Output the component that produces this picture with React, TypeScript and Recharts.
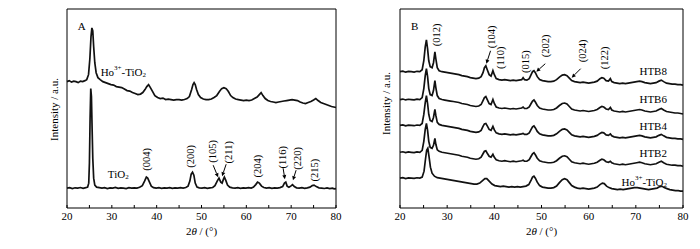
import { LineChart, Line, XAxis, YAxis, ReferenceArea, ReferenceDot, ReferenceLine } from "recharts";

const FONT = "'Liberation Serif', 'Times New Roman', serif";

// 2θ tick marks (labels on every 10°)
const xTicks = [20, 25, 30, 35, 40, 45, 50, 55, 60, 65, 70, 75, 80];
const rightTicksA = [0, 20, 40, 60, 80, 100, 120, 140, 160, 180, 200];

// panel A: [2θ, intensity (offset, a.u.)]
const hoTiO2A: number[][] = [
  [20, 127], [20.5, 128], [21, 126.5], [21.5, 127.5], [22, 127], [22.5, 126], [23, 127.5], [23.5, 127], [24, 128], [24.4, 129],
  [24.8, 134], [25.1, 150], [25.35, 172], [25.55, 181], [25.75, 178], [25.95, 162], [26.2, 146], [26.5, 136], [26.9, 131], [27.4, 129],
  [28, 127], [28.6, 126], [29.2, 125], [29.8, 124], [30.4, 123.5], [31, 122], [31.6, 121.5], [32.2, 121], [32.8, 119.5], [33.4, 118],
  [34, 117.5], [34.6, 116], [35.2, 115], [35.8, 114], [36.4, 114.5], [36.9, 116], [37.4, 119], [37.8, 122], [38.2, 124], [38.6, 121],
  [39.1, 117], [39.6, 113], [40.2, 111], [40.8, 110], [41.4, 110.5], [42, 109], [42.6, 109.5], [43.2, 109], [43.8, 108.5], [44.4, 109],
  [45, 109], [45.6, 108.5], [46.2, 109], [46.8, 110], [47.3, 112], [47.8, 119], [48.1, 124], [48.35, 126], [48.6, 124], [48.9, 119],
  [49.3, 114], [49.8, 111], [50.4, 109.5], [51, 109], [51.6, 109], [52.2, 109.5], [52.8, 111], [53.4, 113], [54, 117], [54.5, 120],
  [55, 121], [55.5, 120], [56, 117], [56.5, 113], [57, 111], [57.6, 109.5], [58.2, 109], [58.8, 108.5], [59.4, 108], [60, 108.5],
  [60.6, 108], [61.2, 108.5], [61.8, 110], [62.4, 111.5], [62.9, 114], [63.3, 116], [63.7, 113], [64.2, 110], [64.8, 108], [65.4, 107],
  [66, 106.5], [66.6, 106], [67.2, 106.5], [67.8, 107], [68.4, 107.5], [69, 108], [69.6, 108.5], [70.2, 109], [70.8, 108.5], [71.4, 108],
  [72, 106.5], [72.6, 105.5], [73.2, 105], [73.8, 106], [74.4, 107], [75, 108.5], [75.5, 110], [76, 108], [76.6, 106], [77.2, 105],
  [77.8, 104], [78.4, 103], [79, 102], [79.5, 101.5], [80, 101],
];

const tiO2A: number[][] = [
  [20, 20], [20.6, 20.5], [21.2, 19.5], [21.8, 20.3], [22.4, 20], [23, 20.6], [23.6, 19.8], [24.2, 20.4], [24.6, 21], [24.85, 25],
  [25.0, 45], [25.15, 90], [25.3, 120], [25.45, 112], [25.6, 80], [25.75, 50], [25.95, 30], [26.2, 23], [26.6, 21], [27.2, 20.5],
  [27.8, 20], [28.4, 20.4], [29, 19.6], [29.6, 20.2], [30.2, 20], [30.8, 20.6], [31.4, 19.7], [32, 20.3], [32.6, 20], [33.2, 19.5],
  [33.8, 20.4], [34.4, 20], [35, 20.3], [35.6, 20], [36.2, 20.8], [36.8, 22.5], [37.3, 27], [37.7, 31], [38.0, 30], [38.4, 26],
  [38.8, 22], [39.3, 20.5], [39.9, 20], [40.5, 20.4], [41.1, 19.8], [41.7, 20.3], [42.3, 20], [42.9, 20.5], [43.5, 19.7], [44.1, 20.2],
  [44.7, 20], [45.3, 20.4], [45.9, 20], [46.5, 20.6], [47.0, 22], [47.4, 27], [47.7, 34], [48.0, 36], [48.3, 33], [48.6, 25],
  [49.0, 21], [49.5, 20.3], [50.1, 20], [50.7, 20.4], [51.3, 19.8], [51.9, 20.3], [52.5, 20.6], [53.0, 22.5], [53.5, 27], [53.9, 30],
  [54.3, 26], [54.6, 25], [54.9, 29], [55.1, 31], [55.4, 28], [55.8, 23], [56.3, 21], [56.9, 20.3], [57.5, 20], [58.1, 20.4],
  [58.7, 19.8], [59.3, 20.2], [59.9, 20], [60.5, 20.5], [61.1, 20], [61.6, 21], [62.1, 23.5], [62.5, 26], [62.9, 25], [63.4, 22],
  [63.9, 20.6], [64.5, 20], [65.1, 20.4], [65.7, 19.8], [66.3, 20.3], [66.9, 20], [67.5, 20.5], [68.1, 21.5], [68.5, 25], [68.8, 26],
  [69.1, 22], [69.5, 20.8], [69.9, 22], [70.3, 23.5], [70.7, 21.5], [71.2, 20.3], [71.8, 20], [72.4, 20.5], [73, 19.8], [73.6, 20.3],
  [74.2, 21], [74.7, 22.5], [75.1, 23], [75.6, 21.5], [76.2, 20.3], [76.8, 20], [77.4, 19.6], [78, 20.2], [78.6, 19.5], [79.2, 20],
  [79.6, 19.3], [80, 19.5],
];

// panel B
const htb8: number[][] = [
  [20, 137], [20.6, 137.5], [21.2, 136.5], [21.8, 137.3], [22.4, 137], [23, 136.6], [23.6, 137.4], [24.2, 137], [24.7, 139], [25.05, 148],
  [25.35, 162], [25.6, 169], [25.85, 160], [26.1, 148], [26.4, 142], [26.8, 141], [27.1, 146], [27.4, 157], [27.6, 150], [27.9, 141],
  [28.3, 138], [28.9, 137], [29.5, 136.5], [30.1, 136], [30.7, 135.5], [31.3, 135], [31.9, 134.5], [32.5, 134], [33.1, 133], [33.7, 132.5],
  [34.3, 132], [34.9, 131], [35.5, 130.5], [36.1, 130], [36.7, 130.5], [37.2, 132], [37.6, 136], [37.9, 141], [38.2, 143], [38.5, 139],
  [38.9, 134], [39.3, 132.5], [39.7, 138], [40.0, 134], [40.4, 130], [41, 129], [41.6, 128.5], [42.2, 129], [42.8, 128.5], [43.4, 128],
  [44, 128.5], [44.6, 128], [45.2, 128.5], [45.8, 129], [46.1, 131], [46.4, 129], [46.9, 128.5], [47.4, 130], [47.8, 134], [48.1, 137],
  [48.4, 138], [48.7, 136], [49.1, 132], [49.6, 129], [50.2, 128], [50.8, 127.5], [51.4, 127], [52, 127], [52.6, 127.5], [53.2, 129],
  [53.8, 131.5], [54.4, 133.5], [54.9, 134], [55.4, 133], [55.9, 130.5], [56.4, 128], [57, 127], [57.6, 126.5], [58.2, 126], [58.8, 126.5],
  [59.4, 126], [60, 125.5], [60.6, 126], [61.2, 126.5], [61.8, 127.5], [62.4, 130], [62.8, 131], [63.2, 130.5], [63.7, 128], [64.2, 127.5],
  [64.6, 130], [64.9, 127], [65.4, 126], [66, 125.5], [66.6, 125], [67.2, 125.5], [67.8, 125], [68.4, 125.5], [69, 126], [69.6, 126.5],
  [70.2, 127], [70.8, 127.5], [71.3, 127], [71.9, 126], [72.5, 125.5], [73.1, 125], [73.7, 125.5], [74.3, 126], [74.9, 127.5], [75.4, 128.5],
  [75.9, 127], [76.5, 125.5], [77.1, 125], [77.7, 124.5], [78.3, 124.5], [78.9, 124], [79.5, 124], [80, 123.5],
];

const htb6: number[][] = [
  [20, 109], [20.6, 109.5], [21.2, 108.6], [21.8, 109.3], [22.4, 109], [23, 108.7], [23.6, 109.4], [24.2, 109], [24.7, 111], [25.05, 120],
  [25.35, 133], [25.6, 140], [25.85, 132], [26.1, 120], [26.4, 114], [26.8, 113], [27.1, 118], [27.4, 128], [27.6, 121], [27.9, 113],
  [28.3, 110], [28.9, 109], [29.5, 108.5], [30.1, 108], [30.7, 107.5], [31.3, 107], [31.9, 106.5], [32.5, 106], [33.1, 105], [33.7, 104.5],
  [34.3, 104], [34.9, 103], [35.5, 102.5], [36.1, 102], [36.7, 102.5], [37.2, 104], [37.6, 108], [37.9, 111], [38.2, 112], [38.5, 109],
  [38.9, 105], [39.3, 104], [39.7, 109], [40.0, 105], [40.4, 101.5], [41, 100.5], [41.6, 100], [42.2, 100.5], [42.8, 100], [43.4, 99.5],
  [44, 100], [44.6, 99.5], [45.2, 100], [45.8, 100.5], [46.1, 101.5], [46.4, 100], [46.9, 100], [47.4, 101.5], [47.8, 105], [48.1, 107.5],
  [48.4, 108.5], [48.7, 106.5], [49.1, 103], [49.6, 100.5], [50.2, 99.5], [50.8, 99], [51.4, 98.5], [52, 98.5], [52.6, 99], [53.2, 100.5],
  [53.8, 103], [54.4, 105], [54.9, 105.5], [55.4, 104.5], [55.9, 102], [56.4, 99.5], [57, 98.5], [57.6, 98], [58.2, 97.5], [58.8, 98],
  [59.4, 97.5], [60, 97], [60.6, 97.5], [61.2, 98], [61.8, 99], [62.4, 101], [62.8, 102], [63.2, 101.5], [63.7, 99.5], [64.2, 99],
  [64.6, 101], [64.9, 98.5], [65.4, 97.5], [66, 97], [66.6, 96.5], [67.2, 97], [67.8, 96.5], [68.4, 97], [69, 97.5], [69.6, 98],
  [70.2, 98.5], [70.8, 99], [71.3, 98.5], [71.9, 97.5], [72.5, 97], [73.1, 96.5], [73.7, 97], [74.3, 97.5], [74.9, 99], [75.4, 100],
  [75.9, 98.5], [76.5, 97], [77.1, 96.5], [77.7, 96], [78.3, 95.5], [78.9, 95.5], [79.5, 95], [80, 94.5],
];

const htb4: number[][] = [
  [20, 83], [20.6, 83.5], [21.2, 82.6], [21.8, 83.3], [22.4, 83], [23, 82.7], [23.6, 83.4], [24.2, 83], [24.7, 85], [25.05, 94],
  [25.35, 106], [25.6, 113], [25.85, 105], [26.1, 94], [26.4, 88], [26.8, 87], [27.1, 91], [27.4, 99], [27.6, 93], [27.9, 86],
  [28.3, 84], [28.9, 83], [29.5, 82.5], [30.1, 82], [30.7, 81.5], [31.3, 81], [31.9, 80.5], [32.5, 80], [33.1, 79], [33.7, 78.5],
  [34.3, 78], [34.9, 77], [35.5, 76.5], [36.1, 76], [36.7, 76.5], [37.2, 78], [37.6, 82], [37.9, 84.5], [38.2, 85], [38.5, 82.5],
  [38.9, 79], [39.3, 78], [39.7, 82], [40.0, 78.5], [40.4, 75.5], [41, 74.5], [41.6, 74], [42.2, 74.5], [42.8, 74], [43.4, 73.5],
  [44, 74], [44.6, 73.5], [45.2, 74], [45.8, 74.5], [46.1, 75], [46.4, 74], [46.9, 74], [47.4, 75.5], [47.8, 79], [48.1, 81.5],
  [48.4, 82.5], [48.7, 80.5], [49.1, 77], [49.6, 74.5], [50.2, 73.5], [50.8, 73], [51.4, 72.5], [52, 72.5], [52.6, 73], [53.2, 74.5],
  [53.8, 77], [54.4, 79], [54.9, 79.5], [55.4, 78.5], [55.9, 76], [56.4, 73.5], [57, 72.5], [57.6, 72], [58.2, 71.5], [58.8, 72],
  [59.4, 71.5], [60, 71], [60.6, 71.5], [61.2, 72], [61.8, 73], [62.4, 75], [62.8, 76], [63.2, 75.5], [63.7, 73.5], [64.2, 73],
  [64.6, 74.5], [64.9, 72.5], [65.4, 71.5], [66, 71], [66.6, 70.5], [67.2, 71], [67.8, 70.5], [68.4, 71], [69, 71.5], [69.6, 72],
  [70.2, 72.5], [70.8, 73], [71.3, 72.5], [71.9, 71.5], [72.5, 71], [73.1, 70.5], [73.7, 71], [74.3, 71.5], [74.9, 73], [75.4, 74],
  [75.9, 72.5], [76.5, 71], [77.1, 70.5], [77.7, 70], [78.3, 70], [78.9, 69.5], [79.5, 69.5], [80, 69],
];

const htb2: number[][] = [
  [20, 56], [20.6, 56.5], [21.2, 55.6], [21.8, 56.3], [22.4, 56], [23, 55.7], [23.6, 56.4], [24.2, 56], [24.7, 58], [25.05, 67],
  [25.35, 79], [25.6, 85], [25.85, 78], [26.1, 67], [26.4, 61], [26.8, 60], [27.1, 63], [27.4, 70], [27.6, 64], [27.9, 58.5],
  [28.3, 57], [28.9, 56], [29.5, 55.5], [30.1, 55], [30.7, 54.5], [31.3, 54], [31.9, 53.5], [32.5, 53], [33.1, 52], [33.7, 51.5],
  [34.3, 51], [34.9, 50], [35.5, 49.5], [36.1, 49], [36.7, 49.5], [37.2, 51], [37.6, 54.5], [37.9, 57], [38.2, 57.5], [38.5, 55],
  [38.9, 52], [39.3, 51], [39.7, 54], [40.0, 51], [40.4, 48.5], [41, 47.5], [41.6, 47], [42.2, 47.5], [42.8, 47], [43.4, 46.5],
  [44, 47], [44.6, 46.5], [45.2, 47], [45.8, 47.5], [46.1, 48], [46.4, 47], [46.9, 47], [47.4, 48.5], [47.8, 52], [48.1, 54.5],
  [48.4, 55.5], [48.7, 53.5], [49.1, 50], [49.6, 47.5], [50.2, 46.5], [50.8, 46], [51.4, 45.5], [52, 45.5], [52.6, 46], [53.2, 47.5],
  [53.8, 50], [54.4, 52], [54.9, 52.5], [55.4, 51.5], [55.9, 49], [56.4, 46.5], [57, 45.5], [57.6, 45], [58.2, 44.5], [58.8, 45],
  [59.4, 44.5], [60, 44], [60.6, 44.5], [61.2, 45], [61.8, 46], [62.4, 48], [62.8, 49], [63.2, 48.5], [63.7, 46.5], [64.2, 46],
  [64.6, 47], [64.9, 45.5], [65.4, 44.5], [66, 44], [66.6, 43.5], [67.2, 44], [67.8, 43.5], [68.4, 44], [69, 44.5], [69.6, 45],
  [70.2, 45.5], [70.8, 46], [71.3, 45.5], [71.9, 44.5], [72.5, 44], [73.1, 43.5], [73.7, 44], [74.3, 44.5], [74.9, 46], [75.4, 47],
  [75.9, 45.5], [76.5, 44], [77.1, 43.5], [77.7, 43], [78.3, 43], [78.9, 42.5], [79.5, 42.5], [80, 42],
];

const hoTiO2B: number[][] = [
  [20, 30], [20.6, 30.5], [21.2, 29.6], [21.8, 30.3], [22.4, 30], [23, 29.7], [23.6, 30.4], [24.2, 30], [24.7, 31], [25.1, 37],
  [25.4, 49], [25.65, 58], [25.9, 60], [26.15, 52], [26.45, 41], [26.8, 35], [27.3, 32], [27.9, 30.5], [28.5, 30], [29.1, 29.5],
  [29.7, 29], [30.3, 28.5], [30.9, 28], [31.5, 27.5], [32.1, 27], [32.7, 26.5], [33.3, 26], [33.9, 25.5], [34.5, 25], [35.1, 24.5],
  [35.7, 24], [36.3, 24], [36.9, 25], [37.5, 27.5], [38.0, 29.5], [38.4, 29.5], [38.9, 27], [39.5, 24], [40.1, 22.5], [40.7, 22],
  [41.3, 21.5], [41.9, 22], [42.5, 21.5], [43.1, 21], [43.7, 21.5], [44.3, 21], [44.9, 21.5], [45.5, 21], [46.1, 21.5], [46.7, 22],
  [47.3, 23.5], [47.8, 28], [48.1, 31], [48.4, 32], [48.7, 30], [49.1, 26], [49.6, 22.5], [50.2, 21], [50.8, 20.5], [51.4, 20],
  [52, 20], [52.6, 20.5], [53.2, 22], [53.8, 25.5], [54.4, 28.5], [54.9, 29.5], [55.4, 28.5], [55.9, 25.5], [56.4, 22.5], [57, 21],
  [57.6, 20], [58.2, 19.5], [58.8, 20], [59.4, 19.5], [60, 19], [60.6, 19.5], [61.2, 20], [61.8, 21], [62.4, 23.5], [62.9, 25],
  [63.3, 24.5], [63.8, 22], [64.3, 20.5], [64.9, 19.5], [65.5, 19], [66.1, 18.5], [66.7, 19], [67.3, 18.5], [67.9, 19], [68.5, 19.5],
  [69.1, 20], [69.7, 20.5], [70.3, 20.5], [70.9, 20], [71.5, 19.5], [72.1, 19], [72.7, 18.5], [73.3, 19], [73.9, 19.5], [74.5, 20],
  [75.1, 21.5], [75.5, 22], [76, 20.5], [76.6, 19.5], [77.2, 18.5], [77.8, 18], [78.4, 17.5], [79, 17.5], [79.5, 17], [80, 17],
];

// Miller-index labels (center of the rotated text)
const millerA = [
  { x: 37.8, y: 49, t: "(004)" },
  { x: 47.6, y: 52, t: "(200)" },
  { x: 52.5, y: 57, t: "(105)" },
  { x: 56.0, y: 56, t: "(211)" },
  { x: 62.5, y: 42, t: "(204)" },
  { x: 68.1, y: 51, t: "(116)" },
  { x: 71.5, y: 50, t: "(220)" },
  { x: 75.1, y: 38, t: "(215)" },
];
const arrowsA = [
  { x1: 52.6, y1: 43, x2: 53.7, y2: 31 },
  { x1: 55.5, y1: 44, x2: 54.6, y2: 32 },
  { x1: 68.2, y1: 40, x2: 68.6, y2: 29 },
  { x1: 71.1, y1: 38, x2: 70.4, y2: 28 },
];

const millerB = [
  { x: 27.7, y: 174, t: "(012)" },
  { x: 39.4, y: 172, t: "(104)" },
  { x: 41.3, y: 151, t: "(110)" },
  { x: 46.6, y: 147, t: "(015)" },
  { x: 50.8, y: 163, t: "(202)" },
  { x: 58.7, y: 158, t: "(024)" },
  { x: 63.3, y: 151, t: "(122)" },
];
const arrowsB = [
  { x1: 39.2, y1: 158, x2: 38.3, y2: 145 },
  { x1: 50.8, y1: 145, x2: 48.9, y2: 137 },
  { x1: 58.3, y1: 140, x2: 56.4, y2: 131 },
];

const sampleLabelsB = [
  { y: 138, t: "HTB8" },
  { y: 110, t: "HTB6" },
  { y: 82, t: "HTB4" },
  { y: 55, t: "HTB2" },
];

const toPts = (arr: number[][]) => arr.map(([x, v]) => ({ x, v }));

const HoLabel = ({ x, y, anchor }: { x: number; y: number; anchor: string }) => (
  <text x={x} y={y} textAnchor={anchor} dominantBaseline="central" fontFamily={FONT} fontSize={11} fill="#000">
    Ho<tspan dy={-4} fontSize={7}>3+</tspan>
    <tspan dy={4}>-TiO</tspan>
    <tspan dy={3} fontSize={7}>2</tspan>
  </text>
);

function textAt(content: (cx: number, cy: number) => any) {
  return (p: any) => content(p.cx, p.cy);
}

function arrowShape(p: any) {
  const { x1, y1, x2, y2 } = p;
  const ang = Math.atan2(y2 - y1, x2 - x1);
  const L = 4;
  const w = 2;
  const bx = x2 - L * Math.cos(ang);
  const by = y2 - L * Math.sin(ang);
  const nx = -Math.sin(ang) * w;
  const ny = Math.cos(ang) * w;
  return (
    <g>
      <line x1={x1} y1={y1} x2={bx} y2={by} stroke="#000" strokeWidth={1} />
      <polygon points={`${x2},${y2} ${bx + nx},${by + ny} ${bx - nx},${by - ny}`} fill="#000" />
    </g>
  );
}

const tickStyle = { fill: "#000", fontSize: 11, fontFamily: FONT };
const fmt = (v: number) => (v % 10 === 0 ? String(v) : "");

function commonParts(yLabelV: number) {
  return [
    <ReferenceDot
      key="xt"
      x={50}
      y={-23}
      r={0}
      ifOverflow="visible"
      shape={textAt((cx, cy) => (
        <text x={cx} y={cy} textAnchor="middle" dominantBaseline="central" fontFamily={FONT} fontSize={11} fill="#000">
          2<tspan fontStyle="italic">θ</tspan> / (°)
        </text>
      ))}
    />,
    <ReferenceDot
      key="yt"
      x={17}
      y={yLabelV}
      r={0}
      ifOverflow="visible"
      shape={textAt((cx, cy) => (
        <text
          x={cx}
          y={cy}
          textAnchor="middle"
          dominantBaseline="central"
          fontFamily={FONT}
          fontSize={11}
          fill="#000"
          transform={`rotate(-90 ${cx} ${cy})`}
        >
          Intensity / a.u.
        </text>
      ))}
    />,
  ];
}

function millerDots(items: { x: number; y: number; t: string }[], prefix: string) {
  return items.map((m) => (
    <ReferenceDot
      key={prefix + m.t}
      x={m.x}
      y={m.y}
      r={0}
      ifOverflow="visible"
      shape={textAt((cx, cy) => (
        <text
          x={cx}
          y={cy}
          textAnchor="middle"
          dominantBaseline="central"
          fontFamily={FONT}
          fontSize={10.5}
          fill="#000"
          transform={`rotate(-90 ${cx} ${cy})`}
        >
          {m.t}
        </text>
      ))}
    />
  ));
}

function arrowLines(items: { x1: number; y1: number; x2: number; y2: number }[], prefix: string) {
  return items.map((a, i) => (
    <ReferenceLine
      key={prefix + i}
      segment={[
        { x: a.x1, y: a.y1 },
        { x: a.x2, y: a.y2 },
      ]}
      ifOverflow="visible"
      shape={arrowShape}
    />
  ));
}

const lineProps = {
  type: "linear" as const,
  dataKey: "v",
  stroke: "#111",
  strokeWidth: 1.7,
  dot: false,
  isAnimationActive: false,
};

export default function App() {
  return (
    <div style={{ position: "absolute", left: 0, top: 0, width: 700, height: 249, background: "#fff" }}>
      <div style={{ position: "absolute", left: 0, top: 0 }}>
        <LineChart width={350} height={249} margin={{ top: 9, right: 14, left: 67, bottom: 0 }}>
          <XAxis
            type="number"
            dataKey="x"
            domain={[20, 80]}
            ticks={xTicks}
            tickFormatter={fmt}
            tick={tickStyle}
            tickSize={-3}
            tickMargin={7}
            tickLine={{ stroke: "#000" }}
            axisLine={false}
            height={41}
          />
          <YAxis
            type="number"
            orientation="right"
            domain={[0, 200]}
            ticks={rightTicksA}
            width={0}
            tickSize={-3}
            tickFormatter={() => ""}
            tickLine={{ stroke: "#000" }}
            axisLine={false}
          />
          <ReferenceArea x1={20} x2={80} y1={0} y2={200} fill="none" stroke="#000" strokeWidth={1} ifOverflow="visible" />
          <Line {...lineProps} data={toPts(hoTiO2A)} />
          <Line {...lineProps} data={toPts(tiO2A)} />
          {millerDots(millerA, "a")}
          {arrowLines(arrowsA, "aa")}
          <ReferenceDot
            x={23.3}
            y={183}
            r={0}
            ifOverflow="visible"
            shape={textAt((cx, cy) => (
              <text x={cx} y={cy} textAnchor="middle" dominantBaseline="central" fontFamily={FONT} fontSize={11} fill="#000">
                A
              </text>
            ))}
          />
          <ReferenceDot x={27.5} y={137} r={0} ifOverflow="visible" shape={textAt((cx, cy) => <HoLabel x={cx} y={cy} anchor="start" />)} />
          <ReferenceDot
            x={29.1}
            y={34}
            r={0}
            ifOverflow="visible"
            shape={textAt((cx, cy) => (
              <text x={cx} y={cy} textAnchor="start" dominantBaseline="central" fontFamily={FONT} fontSize={11} fill="#000">
                TiO<tspan dy={3} fontSize={7}>2</tspan>
              </text>
            ))}
          />
          {commonParts(99)}
        </LineChart>
      </div>
      <div style={{ position: "absolute", left: 350, top: 0 }}>
        <LineChart width={350} height={249} margin={{ top: 9, right: 17, left: 50, bottom: 0 }}>
          <XAxis
            type="number"
            dataKey="x"
            domain={[20, 80]}
            ticks={xTicks}
            tickFormatter={fmt}
            tick={tickStyle}
            tickSize={-3}
            tickMargin={7}
            tickLine={{ stroke: "#000" }}
            axisLine={false}
            height={41}
          />
          <YAxis type="number" domain={[0, 200]} hide />
          <ReferenceArea x1={20} x2={80} y1={0} y2={200} fill="none" stroke="#000" strokeWidth={1} ifOverflow="visible" />
          <Line {...lineProps} data={toPts(htb8)} />
          <Line {...lineProps} data={toPts(htb6)} />
          <Line {...lineProps} data={toPts(htb4)} />
          <Line {...lineProps} data={toPts(htb2)} />
          <Line {...lineProps} data={toPts(hoTiO2B)} />
          {millerDots(millerB, "b")}
          {arrowLines(arrowsB, "bb")}
          <ReferenceDot
            x={23.1}
            y={183}
            r={0}
            ifOverflow="visible"
            shape={textAt((cx, cy) => (
              <text x={cx} y={cy} textAnchor="middle" dominantBaseline="central" fontFamily={FONT} fontSize={11} fill="#000">
                B
              </text>
            ))}
          />
          {sampleLabelsB.map((s) => (
            <ReferenceDot
              key={s.t}
              x={76.6}
              y={s.y}
              r={0}
              ifOverflow="visible"
              shape={textAt((cx, cy) => (
                <text x={cx} y={cy} textAnchor="end" dominantBaseline="central" fontFamily={FONT} fontSize={11} fill="#000">
                  {s.t}
                </text>
              ))}
            />
          ))}
          <ReferenceDot x={76.6} y={26} r={0} ifOverflow="visible" shape={textAt((cx, cy) => <HoLabel x={cx} y={cy} anchor="end" />)} />
          {commonParts(105)}
        </LineChart>
      </div>
    </div>
  );
}
